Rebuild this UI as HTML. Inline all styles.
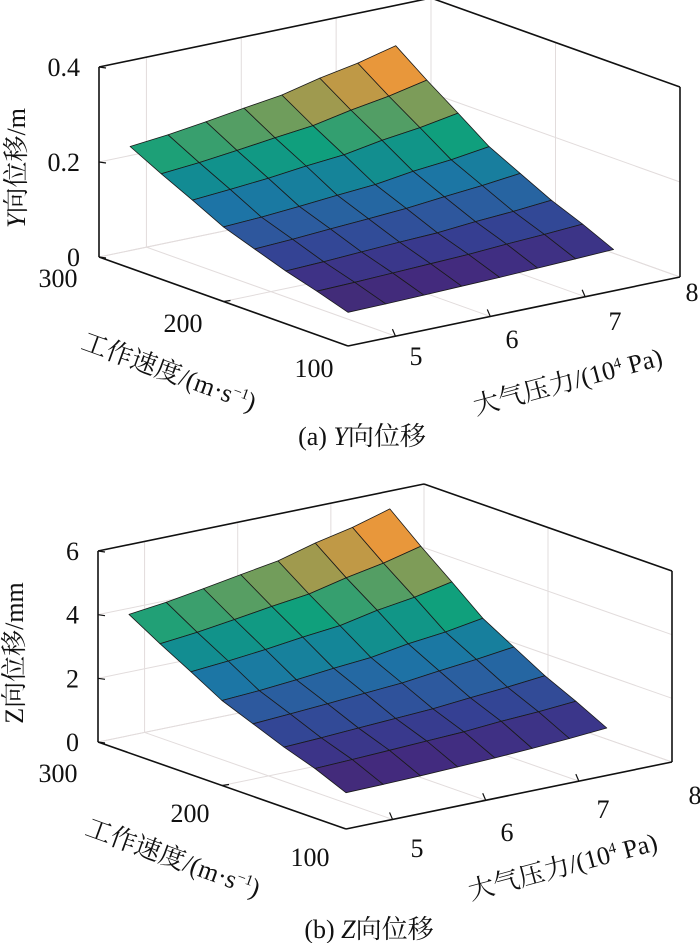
<!DOCTYPE html>
<html><head><meta charset="utf-8">
<style>
body{margin:0;background:#fff;}
svg{display:block;}
text{font-family:"Liberation Serif","Noto Serif CJK SC","Noto Sans CJK SC",serif;fill:#111;}
</style></head>
<body>
<svg id="fig" width="700" height="943" viewBox="0 0 700 943">
<g id="chartA"></g>
<g id="chartB"></g>
</svg>
<script>
// shared axis data
const speeds = [100,125,150,175,200,225,250,275];
const pressures = [4.5,4.9,5.3,5.7,6.1,6.5,6.9,7.3];
const speedTicks = [100,200,300];
const pressureTicks = [5,6,7,8];
// chart (a) Y displacement, m ; rows = speed, cols = pressure
const yDisp = [
 [0.071,0.072,0.074,0.076,0.078,0.081,0.084,0.087],
 [0.092,0.094,0.097,0.100,0.103,0.108,0.112,0.117],
 [0.111,0.114,0.118,0.122,0.125,0.132,0.137,0.144],
 [0.134,0.138,0.143,0.148,0.153,0.161,0.168,0.177],
 [0.157,0.161,0.167,0.174,0.180,0.191,0.199,0.210],
 [0.190,0.196,0.203,0.212,0.219,0.233,0.243,0.257],
 [0.222,0.229,0.238,0.248,0.257,0.273,0.286,0.303],
 [0.256,0.264,0.275,0.287,0.298,0.317,0.332,0.352]
];
const yTicks = [0,0.2,0.4];
const yTickLabels = ["0","0.2","0.4"];
// chart (b) Z displacement, mm
const zDisp = [
 [1.14,1.16,1.19,1.23,1.27,1.33,1.40,1.49],
 [1.56,1.60,1.65,1.70,1.75,1.84,1.90,1.99],
 [1.89,1.94,2.01,2.07,2.13,2.24,2.33,2.45],
 [2.28,2.35,2.43,2.52,2.60,2.74,2.86,3.01],
 [2.67,2.74,2.84,2.96,3.06,3.25,3.38,3.57],
 [3.23,3.33,3.45,3.60,3.72,3.96,4.13,4.37],
 [3.77,3.89,4.05,4.22,4.37,4.64,4.86,5.15],
 [4.35,4.49,4.68,4.88,5.07,5.39,5.64,5.98]
];
const zTicks = [0,2,4,6];
const zTickLabels = ["0","2","4","6"];

const cmap = ["#40306a","#432a7e","#353f92","#2d5a9e","#1d74a6","#128a94","#10a07c","#5a9e62","#a89a4c","#e8973b"];
const NS="http://www.w3.org/2000/svg";
function hex(c){return [parseInt(c.substr(1,2),16),parseInt(c.substr(3,2),16),parseInt(c.substr(5,2),16)];}
function colorAt(t){t=Math.max(0,Math.min(1,t));const f=t*(cmap.length-1);const i=Math.min(cmap.length-2,Math.floor(f));const u=f-i;const a=hex(cmap[i]),b=hex(cmap[i+1]);return "rgb("+a.map((v,k)=>Math.round(v+(b[k]-v)*u)).join(",")+")";}
function el(parent,tag,attrs,txt){const e=document.createElementNS(NS,tag);for(const k in attrs)e.setAttribute(k,attrs[k]);if(txt!==undefined)e.textContent=txt;parent.appendChild(e);return e;}

function drawChart(g,cfg,Z,zt,ztl){
  const sMin=100,sMax=300,pMin=4.5,pMax=8;
  const P=(s,p,z)=>{const a=(s-sMin)/(sMax-sMin),b=(p-pMin)/(pMax-pMin),c=(z-cfg.zMin)/(cfg.zMax-cfg.zMin);
    return [cfg.O[0]+a*cfg.vS[0]+b*cfg.vP[0], cfg.O[1]+a*cfg.vS[1]+b*cfg.vP[1]-c*cfg.zH];};
  const pt=a=>a.map(v=>v.toFixed(1)).join(",");
  const line=(A,B,st,w,name)=>{const l=el(g,"line",{x1:A[0],y1:A[1],x2:B[0],y2:B[1],stroke:st,"stroke-width":w});
    
    return l;};
  const gc="#e2dcdc", zT=cfg.zMax;
  pressureTicks.forEach(p=>line(P(sMax,p,cfg.zMin),P(sMax,p,zT),gc,1,"grid-line"));
  zt.forEach(z=>line(P(sMax,pMin,z),P(sMax,pMax,z),gc,1,"grid-line"));
  speedTicks.forEach(s=>line(P(s,pMax,cfg.zMin),P(s,pMax,zT),gc,1,"grid-line"));
  zt.forEach(z=>line(P(sMin,pMax,z),P(sMax,pMax,z),gc,1,"grid-line"));
  speedTicks.forEach(s=>line(P(s,pMin,cfg.zMin),P(s,pMax,cfg.zMin),gc,1,"grid-line"));
  pressureTicks.forEach(p=>line(P(sMin,p,cfg.zMin),P(sMax,p,cfg.zMin),gc,1,"grid-line"));
  let zmin=Infinity,zmax=-Infinity;Z.forEach(r=>r.forEach(v=>{zmin=Math.min(zmin,v);zmax=Math.max(zmax,v);}));
  for(let i=speeds.length-2;i>=0;i--){for(let j=0;j<pressures.length-1;j++){
    const v=Z[i+1][j+1];
    const poly=el(g,"polygon",{points:[P(speeds[i],pressures[j],Z[i][j]),P(speeds[i],pressures[j+1],Z[i][j+1]),P(speeds[i+1],pressures[j+1],Z[i+1][j+1]),P(speeds[i+1],pressures[j],Z[i+1][j])].map(pt).join(" "),
      fill:colorAt((v-zmin)/(zmax-zmin)),stroke:"#1a1a1a","stroke-width":0.8,"stroke-linejoin":"round"});
    
    
  }}
  const k="#111";
  line(P(sMax,pMin,cfg.zMin),P(sMax,pMin,zT),k,1.6,"z-axis-line");
  line(P(sMax,pMin,zT),P(sMax,pMax,zT),k,1.6,"box-edge");
  line(P(sMax,pMax,zT),P(sMin,pMax,zT),k,1.6,"box-edge");
  line(P(sMin,pMax,zT),P(sMin,pMax,cfg.zMin),k,1.6,"box-edge");
  line(P(sMax,pMin,cfg.zMin),P(sMin,pMin,cfg.zMin),k,1.6,"speed-axis-line");
  line(P(sMin,pMin,cfg.zMin),P(sMin,pMax,cfg.zMin),k,1.6,"pressure-axis-line");
  zt.forEach((z,i)=>{const A=P(sMax,pMin,z);line(A,[A[0]+7,A[1]+1],k,1.2,"z-tick");
    const t=el(g,"text",{x:A[0]-19,y:A[1]+9,"text-anchor":"end","font-size":26},ztl[i]);
    
    });
  speedTicks.forEach((s,i)=>{const A=P(s,pMin,cfg.zMin);if(s===200)line(A,[A[0]+7,A[1]-1],k,1.2,"speed-tick");
    const t=el(g,"text",{x:cfg.sLab[i][0],y:cfg.sLab[i][1]+9,"text-anchor":"middle","font-size":26},String(s));
    
    });
  pressureTicks.forEach((p,i)=>{const A=P(sMin,p,cfg.zMin);if(p<8)line(A,[A[0]-3,A[1]-7],k,1.2,"pressure-tick");
    const t=el(g,"text",{x:cfg.pLab[i][0],y:cfg.pLab[i][1]+9,"text-anchor":"middle","font-size":26},String(p));
    
    });
}

const gA=document.getElementById("chartA");
drawChart(gA,{O:[348,346],vS:[-249,-89],vP:[332,-69],zH:190,zMin:0,zMax:0.4,
  sLab:[[314,368],[183,323],[58,278]],pLab:[[416,356],[512,339],[615,321],[692,292]]},yDisp,yTicks,yTickLabels);
const gB=document.getElementById("chartB");
drawChart(gB,{O:[346,829],vS:[-248,-87],vP:[326,-67],zH:191,zMin:0,zMax:6,
  sLab:[[310,857],[190,813],[58,773]],pLab:[[417,848],[507,832],[603,809],[695,795]]},zDisp,zTicks,zTickLabels);
</script>
<div style="position:absolute;left:0;top:0;width:700px;height:943px;pointer-events:none">
<svg width="700" height="943" style="position:absolute;left:0;top:0">
<text transform="translate(25,168) rotate(-90)" text-anchor="middle" font-size="26"><tspan font-style="italic">Y</tspan>向位移/m</text>
<text transform="translate(166,380) rotate(20)" text-anchor="middle" font-size="26">工作速度/(m·s<tspan font-size="15" dy="-9">−1</tspan><tspan dy="9">)</tspan></text>
<text transform="translate(570,390) rotate(-15)" text-anchor="middle" font-size="26">大气压力/(10<tspan font-size="15" dy="-9">4</tspan><tspan dy="9"> Pa)</tspan></text>
<text x="362" y="445" text-anchor="middle" font-size="26">(a) <tspan font-style="italic">Y</tspan>向位移</text>
<text transform="translate(23,653) rotate(-90)" text-anchor="middle" font-size="26">Z向位移/mm</text>
<text transform="translate(170,866) rotate(20)" text-anchor="middle" font-size="26">工作速度/(m·s<tspan font-size="15" dy="-9">−1</tspan><tspan dy="9">)</tspan></text>
<text transform="translate(565,875) rotate(-15)" text-anchor="middle" font-size="26">大气压力/(10<tspan font-size="15" dy="-9">4</tspan><tspan dy="9"> Pa)</tspan></text>
<text x="369" y="938" text-anchor="middle" font-size="26">(b) <tspan font-style="italic">Z</tspan>向位移</text>
</svg></div>
</body></html>
